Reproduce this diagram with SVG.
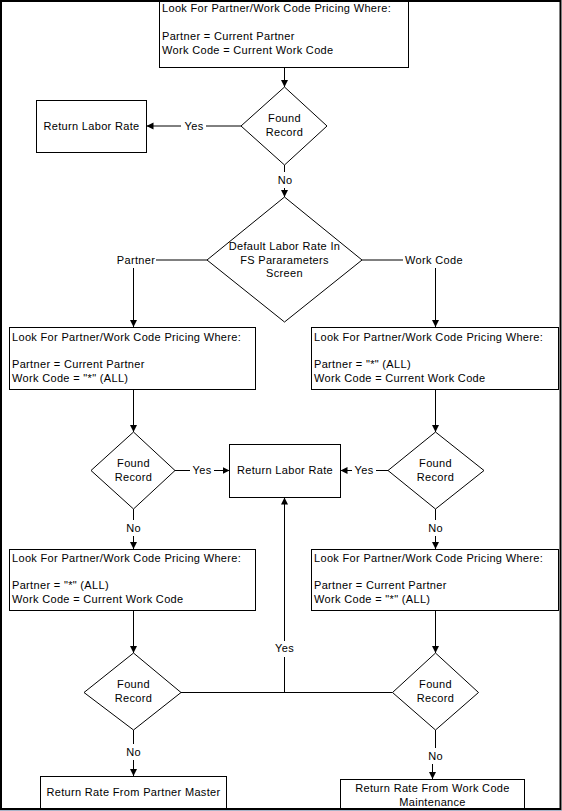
<svg xmlns="http://www.w3.org/2000/svg" width="562" height="811" viewBox="0 0 562 811">
<style>
.bx{fill:#fff;stroke:#000;stroke-width:1}
.dm{fill:#fff;stroke:#000;stroke-width:1}
.t{font-family:"Liberation Sans",Arial,sans-serif;font-size:11px;letter-spacing:0.33px;fill:#000}
.c{text-anchor:middle}
.ln{stroke:#000;stroke-width:1;fill:none}
.ar{marker-end:url(#ah)}
</style>
<defs>
<marker id="ah" markerUnits="userSpaceOnUse" markerWidth="8" markerHeight="8" refX="7" refY="4" orient="auto">
<path d="M0,0.5 L7,4 L0,7.5 z" fill="#000"/>
</marker>
</defs>
<rect x="0" y="0" width="562" height="811" fill="#fff"/>

<g id="connectors">
<line class="ln ar" x1="284.5" y1="67" x2="284.5" y2="87"/>
<line class="ln" x1="241" y1="126" x2="206" y2="126"/>
<line class="ln ar" x1="181" y1="126" x2="146.5" y2="126"/>
<line class="ln" x1="284.5" y1="165" x2="284.5" y2="172"/>
<line class="ln ar" x1="284.5" y1="188" x2="284.5" y2="197"/>
<line class="ln" x1="207" y1="260" x2="156" y2="260"/>
<line class="ln ar" x1="133.5" y1="268" x2="133.5" y2="327"/>
<line class="ln" x1="362" y1="260" x2="403" y2="260"/>
<line class="ln ar" x1="435.5" y1="268" x2="435.5" y2="327"/>
<line class="ln ar" x1="133.5" y1="389" x2="133.5" y2="432"/>
<line class="ln ar" x1="435.5" y1="389" x2="435.5" y2="432"/>
<line class="ln" x1="175" y1="470.5" x2="190" y2="470.5"/>
<line class="ln ar" x1="214" y1="470.5" x2="229.5" y2="470.5"/>
<line class="ln" x1="388" y1="470.5" x2="376" y2="470.5"/>
<line class="ln ar" x1="352" y1="470.5" x2="340.5" y2="470.5"/>
<line class="ln" x1="133.5" y1="509" x2="133.5" y2="520"/>
<line class="ln ar" x1="133.5" y1="536" x2="133.5" y2="549"/>
<line class="ln" x1="435.5" y1="509" x2="435.5" y2="520"/>
<line class="ln ar" x1="435.5" y1="536" x2="435.5" y2="549"/>
<line class="ln ar" x1="133.5" y1="610" x2="133.5" y2="653"/>
<line class="ln ar" x1="435.5" y1="610" x2="435.5" y2="653"/>
<line class="ln" x1="181" y1="692.5" x2="392.5" y2="692.5"/>
<line class="ln" x1="284.5" y1="692.5" x2="284.5" y2="657"/>
<line class="ln ar" x1="284.5" y1="641" x2="284.5" y2="497.5"/>
<line class="ln" x1="133.5" y1="730" x2="133.5" y2="744"/>
<line class="ln ar" x1="133.5" y1="760" x2="133.5" y2="776"/>
<line class="ln" x1="435.5" y1="730" x2="435.5" y2="748"/>
<line class="ln ar" x1="432.5" y1="764" x2="432.5" y2="779"/>
<text class="t c" x="194" y="130">Yes</text>
<text class="t c" x="285" y="184">No</text>
<text class="t c" x="136" y="264">Partner</text>
<text class="t c" x="434" y="264">Work Code</text>
<text class="t c" x="202" y="474">Yes</text>
<text class="t c" x="364" y="474">Yes</text>
<text class="t c" x="133.5" y="532">No</text>
<text class="t c" x="435.5" y="532">No</text>
<text class="t c" x="284.5" y="652">Yes</text>
<text class="t c" x="133.5" y="756">No</text>
<text class="t c" x="435.5" y="760">No</text>
</g>

<g id="n1">
<rect class="bx" x="159.5" y="0.5" width="249" height="67"/>
<text class="t" x="162" y="12">Look For Partner/Work Code Pricing Where:</text>
<text class="t" x="162" y="40">Partner = Current Partner</text>
<text class="t" x="162" y="54">Work Code = Current Work Code</text>
</g>
<g id="d1">
<polygon class="dm" points="284.5,87 327,126 284.5,165 241,126"/>
<text class="t c" x="284.5" y="122">Found</text>
<text class="t c" x="284.5" y="136">Record</text>
</g>
<g id="r1">
<rect class="bx" x="36.5" y="100.5" width="110" height="52"/>
<text class="t c" x="91.5" y="130">Return Labor Rate</text>
</g>
<g id="d2">
<polygon class="dm" points="284.5,197 362,260 284.5,322 207,260"/>
<text class="t c" x="284.5" y="250">Default Labor Rate In</text>
<text class="t c" x="284.5" y="264">FS Pararameters</text>
<text class="t c" x="284.5" y="277">Screen</text>
</g>
<g id="n2l">
<rect class="bx" x="9.5" y="327.5" width="246" height="62"/>
<text class="t" x="12" y="341">Look For Partner/Work Code Pricing Where:</text>
<text class="t" x="12" y="368">Partner = Current Partner</text>
<text class="t" x="12" y="382">Work Code = "*" (ALL)</text>
</g>
<g id="n2r">
<rect class="bx" x="311.5" y="327.5" width="247" height="62"/>
<text class="t" x="314" y="341">Look For Partner/Work Code Pricing Where:</text>
<text class="t" x="314" y="368">Partner = "*" (ALL)</text>
<text class="t" x="314" y="382">Work Code = Current Work Code</text>
</g>
<g id="d3l">
<polygon class="dm" points="133.5,432 175,470.5 133.5,509 91,470.5"/>
<text class="t c" x="133.5" y="467">Found</text>
<text class="t c" x="133.5" y="481">Record</text>
</g>
<g id="d3r">
<polygon class="dm" points="435.5,432 484,470.5 435.5,509 388,470.5"/>
<text class="t c" x="435.5" y="467">Found</text>
<text class="t c" x="435.5" y="481">Record</text>
</g>
<g id="r2">
<rect class="bx" x="229.5" y="444.5" width="111" height="53"/>
<text class="t c" x="285" y="474">Return Labor Rate</text>
</g>
<g id="n4l">
<rect class="bx" x="9.5" y="549.5" width="246" height="61"/>
<text class="t" x="12" y="562">Look For Partner/Work Code Pricing Where:</text>
<text class="t" x="12" y="589">Partner = "*" (ALL)</text>
<text class="t" x="12" y="603">Work Code = Current Work Code</text>
</g>
<g id="n4r">
<rect class="bx" x="311.5" y="549.5" width="247" height="61"/>
<text class="t" x="314" y="562">Look For Partner/Work Code Pricing Where:</text>
<text class="t" x="314" y="589">Partner = Current Partner</text>
<text class="t" x="314" y="603">Work Code = "*" (ALL)</text>
</g>
<g id="d5l">
<polygon class="dm" points="133.5,653 181,692.5 133.5,730 84,692.5"/>
<text class="t c" x="133.5" y="688">Found</text>
<text class="t c" x="133.5" y="702">Record</text>
</g>
<g id="d5r">
<polygon class="dm" points="435.5,653 478.5,692.5 435.5,730 392.5,692.5"/>
<text class="t c" x="435.5" y="688">Found</text>
<text class="t c" x="435.5" y="702">Record</text>
</g>
<g id="r3">
<rect class="bx" x="40.5" y="776.5" width="186" height="33"/>
<text class="t c" x="133.5" y="796">Return Rate From Partner Master</text>
</g>
<g id="r4">
<rect class="bx" x="340.5" y="779.5" width="184" height="35"/>
<text class="t c" x="432.5" y="792">Return Rate From Work Code</text>
<text class="t c" x="432.5" y="806">Maintenance</text>
</g>

<rect x="1" y="1" width="559.5" height="808" fill="none" stroke="#000" stroke-width="2"/>
<line x1="0" y1="810.5" x2="562" y2="810.5" stroke="#a8b4c8" stroke-width="1"/>
</svg>
